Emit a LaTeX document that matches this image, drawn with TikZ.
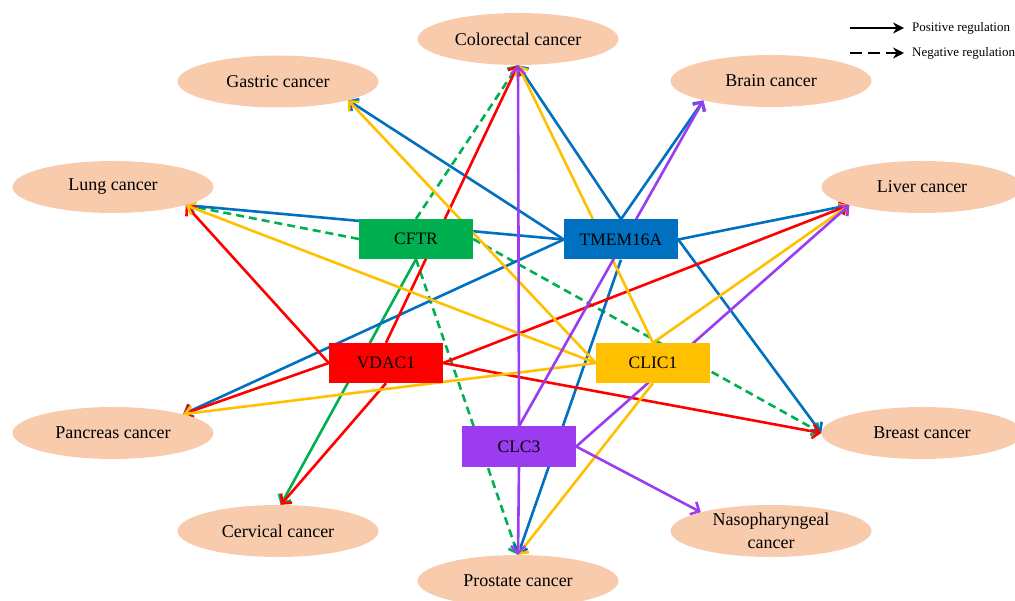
\documentclass[tikz,border=0pt]{standalone}
\usepackage{fontspec}
\setmainfont{Liberation Serif}
\usetikzlibrary{arrows.meta,shapes.geometric,backgrounds}
\definecolor{peach}{HTML}{F8CBAD}
\definecolor{cgreen}{HTML}{00B050}
\definecolor{cblue}{HTML}{0070C0}
\definecolor{cred}{HTML}{FF0000}
\definecolor{cyellow}{HTML}{FFC000}
\definecolor{cpurple}{HTML}{9B3CF0}
\begin{document}
\begin{tikzpicture}[x=1pt,y=-1pt,
  cancer/.style={ellipse, fill=peach, minimum width=201pt, minimum height=52pt, inner sep=0pt,
    font=\fontsize{18}{23}\selectfont, align=center},
  gene/.style={rectangle, minimum width=114pt, minimum height=40pt, inner sep=0pt,
    font=\fontsize{17.5}{21}\selectfont},
  link/.style={line width=2.6pt, -{Straight Barb[length=7pt,width=14pt]}},
  neg/.style={link, dash pattern=on 8pt off 5pt},
  legarrow/.style={line width=2.4pt, black, -{Stealth[length=11pt,width=11pt]}},
  legtext/.style={anchor=west, inner sep=0pt, font=\fontsize{13}{15}\selectfont}
]
\clip (0,0) rectangle (1015,601);

% cancers
\node[cancer] (colorectal) at (518,39) {Colorectal cancer};
\node[cancer] (gastric) at (278,81.5) {Gastric cancer};
\node[cancer] (brain) at (771,81) {Brain cancer};
\node[cancer] (lung) at (113,187) {Lung cancer};
\node[cancer] (liver) at (922,187) {Liver cancer};
\node[cancer] (pancreas) at (113,433) {Pancreas cancer};
\node[cancer] (breast) at (922,433) {Breast cancer};
\node[cancer] (cervical) at (278,531) {Cervical cancer};
\node[cancer] (naso) at (771,531) {Nasopharyngeal\\cancer};
\node[cancer] (prostate) at (518,581) {Prostate cancer};

% genes
\node[gene, fill=cgreen] (cftr) at (416,239) {CFTR};
\node[gene, fill=cblue] (tmem) at (621,239.5) {TMEM16A};
\node[gene, fill=cred] (vdac) at (386,363) {VDAC1};
\node[gene, fill=cyellow] (clic) at (653,363) {CLIC1};
\node[gene, fill=cpurple] (clc) at (519,446.5) {CLC3};

\begin{scope}[on background layer]
% CFTR
\draw[neg, cgreen] (cftr.west) -- (lung.-14);
\draw[neg, cgreen] (cftr.north) -- (colorectal.south);
\draw[neg, cgreen] (cftr.east) -- (breast.west);
\draw[neg, cgreen] (cftr.south) -- (prostate.north);
\draw[link, cgreen] (cftr.south) -- (cervical.84);
% TMEM16A
\draw[link, cblue] (tmem.west) -- (lung.-14);
\draw[link, cblue] (tmem.west) -- (gastric.-15);
\draw[link, cblue] (tmem.west) -- (pancreas.15);
\draw[link, cblue] (tmem.north) -- (colorectal.south);
\draw[link, cblue] (tmem.north) -- (brain.196);
\draw[link, cblue] (tmem.east) -- (liver.194.5);
\draw[link, cblue] (tmem.east) -- (breast.west);
\draw[link, cblue] (tmem.south) -- (prostate.north);
% VDAC1
\draw[link, cred] (vdac.west) -- (lung.-14);
\draw[link, cred] (vdac.west) -- (pancreas.15);
\draw[link, cred] (vdac.north) -- (colorectal.south);
\draw[link, cred] (vdac.south) -- (cervical.84);
\draw[link, cred] (vdac.east) -- (liver.194.5);
\draw[link, cred] (vdac.east) -- (breast.west);
% CLIC1
\draw[link, cyellow] (clic.west) -- (lung.-14);
\draw[link, cyellow] (clic.west) -- (pancreas.15);
\draw[link, cyellow] (clic.west) -- (gastric.-15);
\draw[link, cyellow] (clic.north) -- (colorectal.south);
\draw[link, cyellow] (clic.north) -- (liver.194.5);
\draw[link, cyellow] (clic.south) -- (prostate.north);
% CLC3
\draw[link, cpurple] (clc.north) -- (colorectal.south);
\draw[link, cpurple] (clc.north) -- (brain.196);
\draw[link, cpurple] (clc.east) -- (liver.194.5);
\draw[link, cpurple] (clc.east) -- (naso.165);
\draw[link, cpurple] (clc.south) -- (prostate.north);
\end{scope}

% legend
\coordinate (pa) at (850,28);
\coordinate (pb) at (904,28);
\coordinate (na) at (850,53);
\coordinate (nb) at (904,53);
\draw[legarrow] (pa) -- (pb);
\draw[legarrow, dash pattern=on 12pt off 6pt] (na) -- (nb);
\node[legtext] (postext) at (912,28) {Positive regulation};
\node[legtext] (negtext) at (912,53) {Negative regulation};
\end{tikzpicture}
\end{document}
